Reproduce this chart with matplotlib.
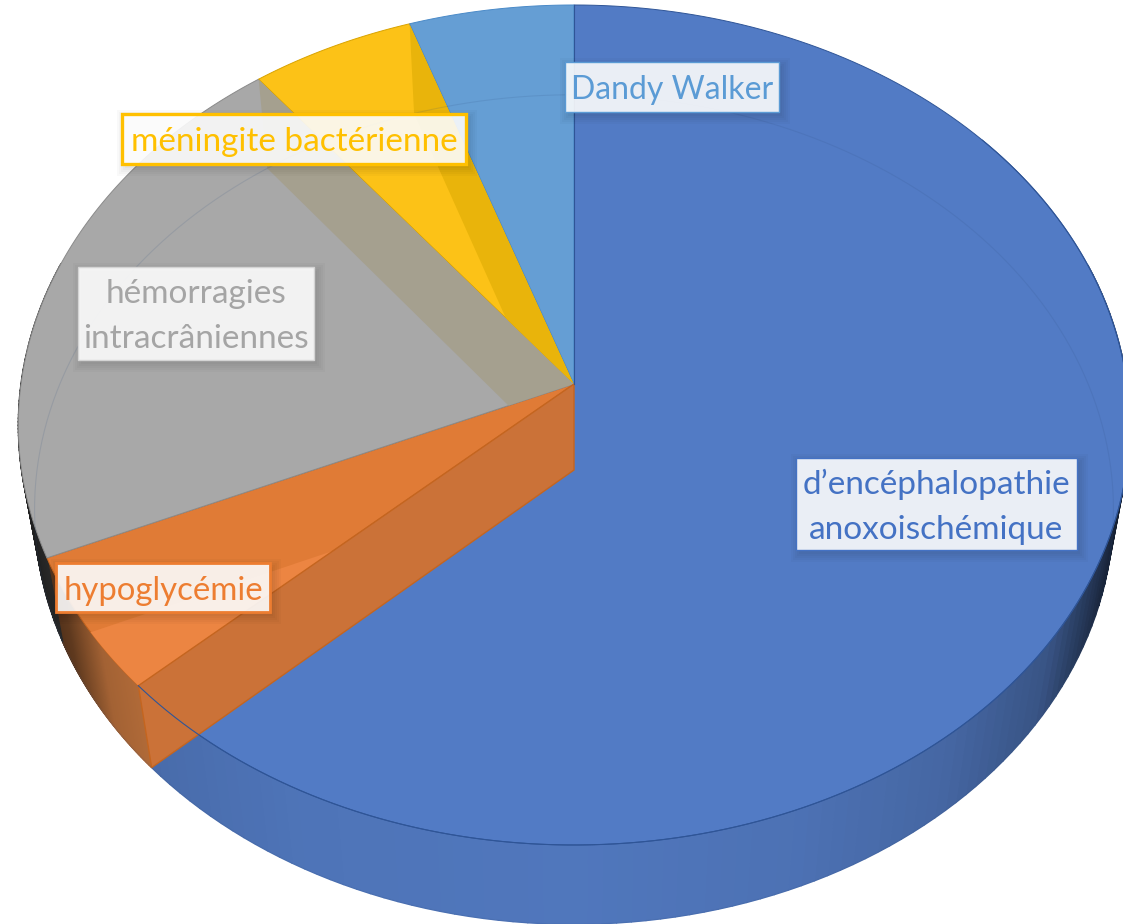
import numpy as np
import matplotlib
matplotlib.use('Agg')
import matplotlib.pyplot as plt
from matplotlib.patches import Polygon, Rectangle
from matplotlib.collections import PolyCollection
from matplotlib.colors import to_rgb

# cases per diagnosis, clockwise from the top
categories = ['d’encéphalopathie\nanoxoischémique', 'hypoglycémie',
              'hémorragies\nintracrâniennes', 'méningite bactérienne', 'Dandy Walker']
values = [12, 1, 4, 1, 1]

face_colors = ['#527BC5', '#E07B36', '#A8A8A8', '#FCC217', '#659ED4']
base_colors = ['#5B87D6', '#E28848', '#6A6A6A', '#FFC000', '#5B9BD5']
edge_colors = ['#2F5597', '#C5651F', '#8A8A8A', '#D9A300', '#4A8AC8']
text_colors = ['#4472C4', '#ED7D31', '#A5A5A5', '#FFC000', '#5B9BD5']
border_colors = ['#4472C4', '#ED7D31', '#D4D4D4', '#FFC000', '#5B9BD5']

# label boxes in pixels: x0, y0, x1, y1
boxes = [(796, 458, 1077, 550), (56, 563, 270, 612), (78, 267, 314, 360),
         (122, 114, 466, 164), (565, 62, 779, 112)]
border_widths = [1.0, 2.0, 1.0, 2.4, 1.0]
font_sizes = [24, 23.7, 24, 24, 23]

# perspective of the disc: centre x, centre y, half width, half depth, perspective
top_disc = (574, 384, 553, 416, 0.0976)
bottom_disc = (574, 470, 537, 411, 0.0953)

# darkening of the side wall across the width of the picture
shade_x = [20, 60, 100, 150, 300, 574, 800, 950, 1050, 1100, 1130]
shade_y = [0.30, 0.42, 0.72, 0.80, 0.86, 0.88, 0.84, 0.76, 0.62, 0.36, 0.18]


def project(theta, disc, r=1.0):
    cx, cy, half_w, half_d, p = disc
    u = r * np.sin(theta)
    v = r * np.cos(theta)
    return cx + half_w * u / (1 + p * v), cy - half_d * v / (1 + p * v)


def rim(t0, t1, disc, n=200):
    x, y = project(np.linspace(t0, t1, n), disc)
    return np.column_stack([x, y])


def wedge(t0, t1, disc):
    apex = project(0.0, disc, 0.0)
    return np.vstack([[apex], rim(t0, t1, disc)])


fig = plt.figure(figsize=(11.23, 9.24), dpi=100)
ax = fig.add_axes([0, 0, 1, 1])
ax.set_xlim(0, 1123)
ax.set_ylim(924, 0)
ax.axis('off')

limits = 2 * np.pi * np.concatenate([[0], np.cumsum(values)]) / np.sum(values)

# side wall first, the top faces cover its back part
for i in range(len(values)):
    angles = np.linspace(limits[i], limits[i + 1], 160)
    quads = []
    colors = []
    for a0, a1 in zip(angles[:-1], angles[1:]):
        if np.cos((a0 + a1) / 2) > 0.3:
            continue
        x0, y0 = project(a0, top_disc)
        x1, y1 = project(a1, top_disc)
        x2, y2 = project(a1, bottom_disc)
        x3, y3 = project(a0, bottom_disc)
        quads.append([(x0, y0), (x1, y1), (x2, y2), (x3, y3)])
        s = np.interp((x0 + x1) / 2, shade_x, shade_y)
        colors.append(tuple(c * s for c in to_rgb(base_colors[i])))
    if quads:
        ax.add_collection(PolyCollection(quads, facecolors=colors, edgecolors=colors,
                                         linewidths=1.0, zorder=1))

# top faces
top_patches = []
for i in range(len(values)):
    patch = Polygon(wedge(limits[i], limits[i + 1], top_disc), closed=True,
                    facecolor=face_colors[i], edgecolor=edge_colors[i], linewidth=0.7, zorder=2)
    ax.add_patch(patch)
    top_patches.append(patch)

apex_top = project(0.0, top_disc, 0.0)
apex_bottom = project(0.0, bottom_disc, 0.0)


def cut_face(theta):
    return [apex_top, project(theta, top_disc), project(theta, bottom_disc), apex_bottom]


# the slices are see-through: bottom of the orange slice shows inside its top face
light = Polygon(wedge(limits[1], limits[2], bottom_disc), closed=True, facecolor='#EC8542',
                edgecolor='none', zorder=3)
ax.add_patch(light)
light.set_clip_path(top_patches[1])

# cut faces seen through the grey and yellow slices
strip = Polygon(cut_face(limits[3]), closed=True, facecolor='#A5A08F', edgecolor='none', zorder=3)
ax.add_patch(strip)
strip.set_clip_path(top_patches[2])
strip = Polygon(cut_face(limits[4]), closed=True, facecolor='#E9B40B', edgecolor='none', zorder=3)
ax.add_patch(strip)
strip.set_clip_path(top_patches[3])

# orange cut face stands in front of the blue slice
ax.add_patch(Polygon(cut_face(limits[1]), closed=True, facecolor='#CB7238',
                     edgecolor='#C5651F', linewidth=1.0, zorder=4))

# bottom circle showing through everything, and the top rim
ring = rim(0, 2 * np.pi, bottom_disc, 500)
ax.plot(ring[:, 0], ring[:, 1], color='#2F4F80', alpha=0.14, linewidth=0.8, zorder=5)
front = rim(limits[0] + 0.9, limits[1], top_disc, 300)
ax.plot(front[:, 0], front[:, 1], color='#2F5597', linewidth=0.8, zorder=5)
ax.plot([apex_top[0], apex_top[0]], [apex_top[1], project(0.0, top_disc)[1]],
        color='#2F5597', linewidth=0.8, zorder=5)

# label boxes
for i, label in enumerate(categories):
    x0, y0, x1, y1 = boxes[i]
    for grow in [8, 6, 4, 2, 0]:
        ax.add_patch(Rectangle((x0 + 3 - grow, y0 + 4 - grow), x1 - x0 + 2 * grow, y1 - y0 + 2 * grow,
                               facecolor='black', edgecolor='none', alpha=0.022, zorder=6))
    ax.add_patch(Rectangle((x0, y0), x1 - x0, y1 - y0, facecolor=(1, 1, 1, 0.89),
                           edgecolor=border_colors[i], linewidth=border_widths[i], zorder=7))
    ax.text((x0 + x1) / 2, (y0 + y1) / 2 + 3, label, ha='center', va='center', family='Lato',
            fontsize=font_sizes[i], color=text_colors[i], linespacing=1.62, zorder=8)

fig.savefig('out.png', dpi=100)
